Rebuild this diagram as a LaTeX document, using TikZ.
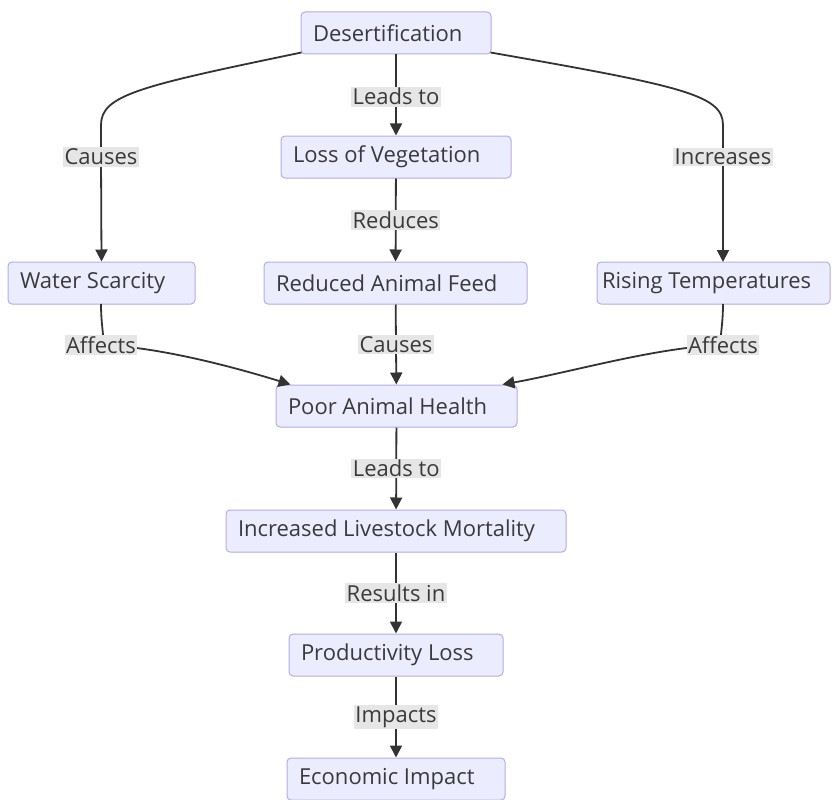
\documentclass[tikz,border=0pt]{standalone}
\usepackage{fontspec}
\setmainfont{Open Sans}
\usetikzlibrary{arrows.meta}
\definecolor{boxfill}{HTML}{ECECFF}
\definecolor{boxline}{HTML}{B4ACE6}
\definecolor{txt}{HTML}{3A3A3A}
\definecolor{lblfill}{HTML}{E6E6E6}
\definecolor{arrowc}{HTML}{333333}
\begin{document}
\begin{tikzpicture}[x=1pt,y=-1pt,
  box/.style={draw=boxline, fill=boxfill, rounded corners=4pt, line width=1pt, text=txt,
    font=\fontsize{22}{25}\selectfont, inner ysep=0pt, inner xsep=12pt, minimum height=42pt,
    text width=#1, align=flush left},
  lbl/.style={fill=lblfill, text=txt, font=\fontsize{22}{25}\selectfont, inner sep=1.5pt},
  edge/.style={draw=arrowc, line width=1.8pt, -{Triangle[length=12pt,width=12pt]}}]
\useasboundingbox (0,0) rectangle (839,800);
\node[box=166pt] (des) at (396,33) {Desertification};
\node[box=206pt] (loss) at (396,157) {Loss of Vegetation};
\node[box=163pt] (ws) at (101.5,283) {Water Scarcity};
\node[box=239pt] (raf) at (395.5,283) {Reduced Animal Feed};
\node[box=223pt, inner xsep=5pt] (rt) at (713.5,283) {Rising Temperatures};
\node[box=217pt] (pah) at (396.5,406) {Poor Animal Health};
\node[box=316pt] (ilm) at (396,531) {Increased Livestock Mortality};
\node[box=190pt] (pl) at (396,655) {Productivity Loss};
\node[box=194pt] (ei) at (396,779) {Economic Impact};
\coordinate (c1) at (101,157);
\coordinate (c2) at (723,157);
\coordinate (a1) at (101,345);
\coordinate (a3) at (723,345);
\coordinate (wsb) at (101,304);
\coordinate (rtt) at (723,262);
\coordinate (rtb) at (723,304);
% edges
\draw[edge] (des) -- node[lbl, pos=0.52] {Leads to} (loss);
\draw[edge] (loss) -- node[lbl, pos=0.5] {Reduces} (raf);
\draw[edge] (raf) -- node[lbl, pos=0.5] {Causes} (pah);
\draw[edge] (pah) -- node[lbl, pos=0.5] {Leads to} (ilm);
\draw[edge] (ilm) -- node[lbl, pos=0.5] {Results in} (pl);
\draw[edge] (pl) -- node[lbl, pos=0.5] {Impacts} (ei);
\draw[edge] ([shift={(1,-2)}]des.south west) .. controls (140,86) and (101,95) .. (101,125) -- (c1) -- (ws.north);
\draw[edge] ([shift={(-1,-2)}]des.south east) .. controls (682,86) and (723,95) .. (723,125) -- (c2) -- (rtt);
\draw[edge] (wsb) .. controls (101,330) and (106,342) .. (a1) .. controls (165,347) and (250,372) .. ([xshift=15pt]pah.north west);
\draw[edge] (rtb) .. controls (723,330) and (718,342) .. (a3) .. controls (657,347) and (572,372) .. ([xshift=-15pt]pah.north east);
\node[lbl] at (c1) {Causes};
\node[lbl] at (c2) {Increases};
\node[lbl] at (a1) {Affects};
\node[lbl] at (a3) {Affects};
\end{tikzpicture}
\end{document}
